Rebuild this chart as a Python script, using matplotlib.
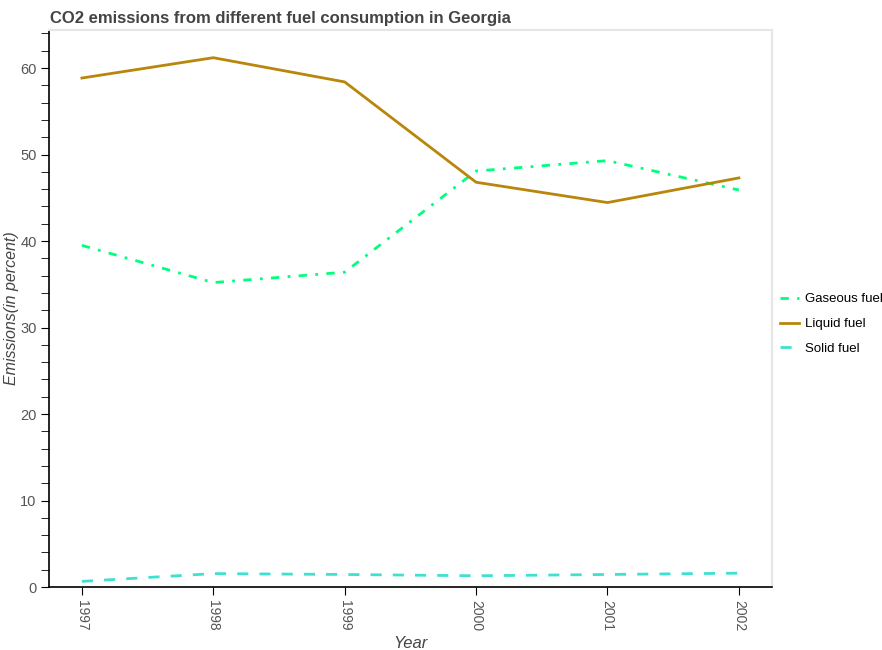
import matplotlib.pyplot as plt
from matplotlib.ticker import MultipleLocator

plt.rcParams['font.family'] = ['Liberation Sans', 'DejaVu Sans']

years = [1997, 1998, 1999, 2000, 2001, 2002]
gaseous = [39.5, 35.2, 36.4, 48.1, 49.3, 45.9]
liquid = [58.85, 61.2, 58.4, 46.8, 44.45, 47.3]
solid = [0.65, 1.55, 1.45, 1.3, 1.45, 1.6]

fig = plt.figure(figsize=(8.82, 6.5), dpi=100)
ax = fig.add_axes([0.0556, 0.0969, 0.8194, 0.8569])

ax.plot(years, gaseous, color='#00ff7f', lw=2, ls=(0, (3, 3, 1, 3)), label='Gaseous fuel')
ax.plot(years, liquid, color='#b8860b', lw=2, ls='-', label='Liquid fuel')
ax.plot(years, solid, color='#40e0d0', lw=2, ls=(0, (4, 4)), label='Solid fuel')

ax.set_xlim(1996.75, 2002.25)
ax.set_ylim(0, 64.4)
ax.set_xticks(years)
ax.set_xticklabels([str(y) for y in years], rotation=-90, color='#555555', fontsize=10)
ax.yaxis.set_major_locator(MultipleLocator(10))
ax.yaxis.set_minor_locator(MultipleLocator(2))
ax.tick_params(axis='y', labelcolor='#555555', labelsize=10.5, length=6, pad=3)
ax.tick_params(axis='y', which='minor', length=6)
ax.tick_params(axis='x', length=6)

for s in ['top', 'right']:
    ax.spines[s].set_color('#e6e6e6')
    ax.spines[s].set_linewidth(1.5)
for s in ['left', 'bottom']:
    ax.spines[s].set_color('black')
    ax.spines[s].set_linewidth(1.2)

ax.set_xlabel('Year', fontsize=12, style='italic', color='#444444')
ax.set_ylabel('Emissions(in percent)', fontsize=11.5, style='italic', color='#444444')
ax.xaxis.set_label_coords(0.5, -0.088)
ax.yaxis.set_label_coords(-0.042, 0.5)

fig.text(0.0567, 0.972, 'CO2 emissions from different fuel consumption in Georgia',
         fontsize=12, fontweight='bold', color='#444444', va='center')

ax.legend(loc='center left', bbox_to_anchor=(1.011, 0.472), frameon=False,
          fontsize=9.5, handlelength=1.5, handletextpad=0.4, labelspacing=0.95,
          borderaxespad=0, borderpad=0)

fig.savefig('out.png', dpi=100)
